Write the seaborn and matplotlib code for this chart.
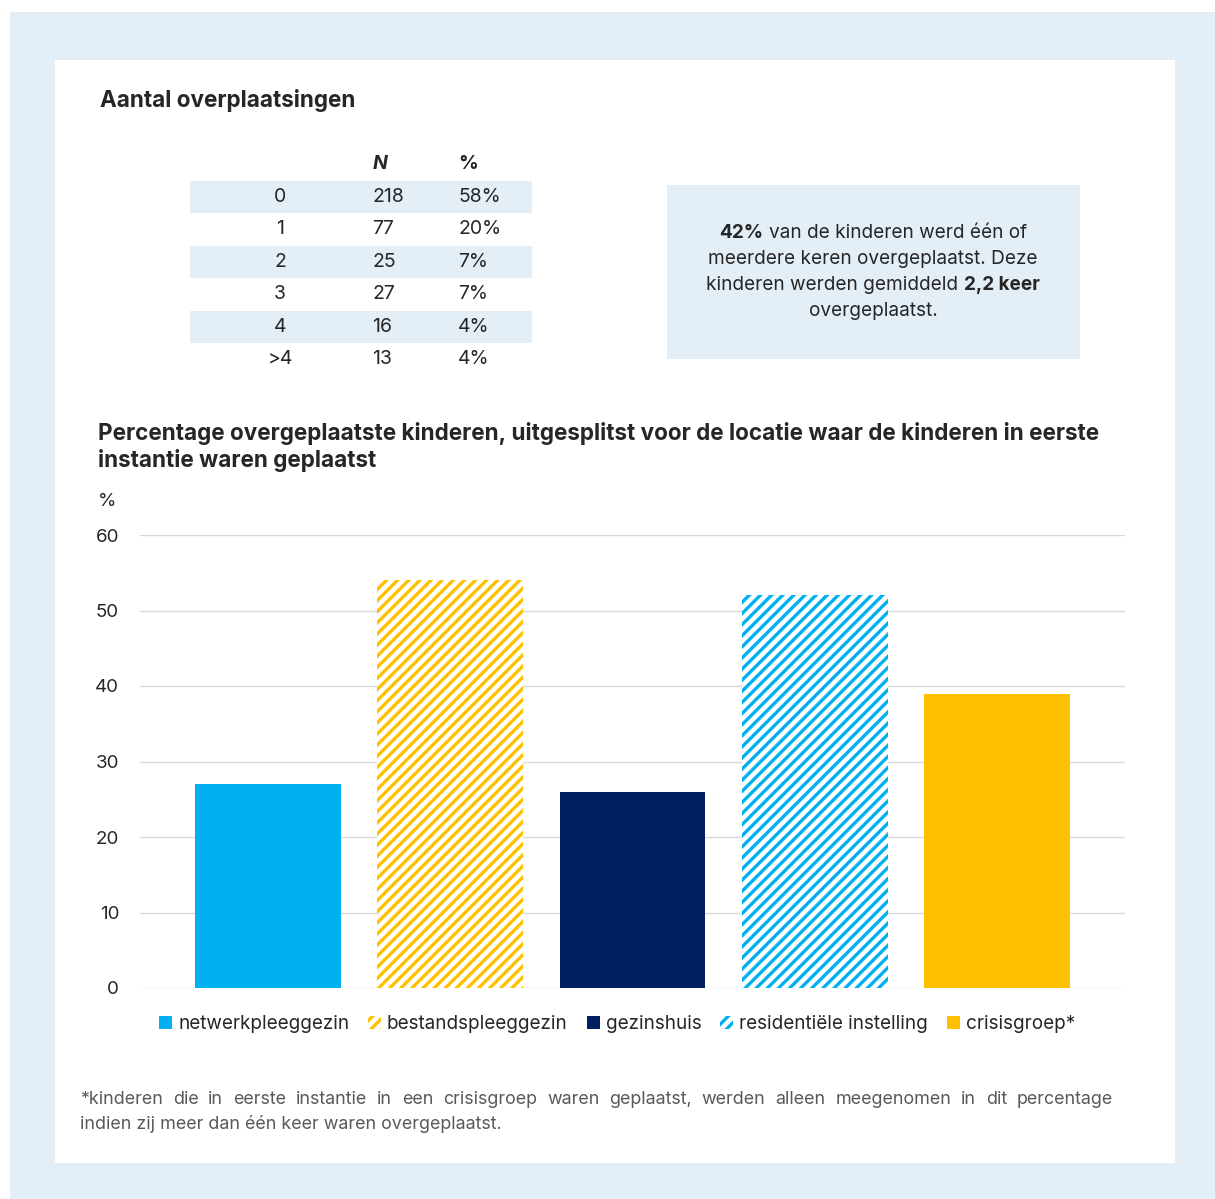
import matplotlib
matplotlib.use("Agg")
import matplotlib.pyplot as plt
from matplotlib.patches import Rectangle, Patch
import seaborn as sns

# data
table_rows = ["0", "1", "2", "3", "4", ">4"]
table_n = [218, 77, 25, 27, 16, 13]
table_pct = ["58%", "20%", "7%", "7%", "4%", "4%"]

locaties = ["netwerkpleeggezin", "bestandspleeggezin", "gezinshuis",
            "residentiële instelling", "crisisgroep*"]
pct_overgeplaatst = [27, 54, 26, 52, 39]
kleuren = ["#00B0F0", "#FFC000", "#002060", "#00B0F0", "#FFC000"]
gearceerd = [False, True, False, True, False]

yticks = [0, 10, 20, 30, 40, 50, 60]

sns.set_theme(style="white")
plt.rcParams["font.family"] = ["Inter", "DejaVu Sans"]
plt.rcParams["hatch.linewidth"] = 2.4

W, H = 1215, 1199
fig = plt.figure(figsize=(W / 100, H / 100), dpi=100)
fig.patch.set_facecolor("white")
LIGHT = "#E4EEF7"


def fx(px):
    return px / W


def fy(py):
    return 1 - py / H


def rect(x0, y0, x1, y1, color, z=0):
    fig.add_artist(Rectangle((fx(x0), fy(y1)), fx(x1) - fx(x0), fy(y0) - fy(y1),
                             transform=fig.transFigure, facecolor=color,
                             edgecolor="none", zorder=z))


# panels
rect(10, 12, 1215, 1199, LIGHT, z=-3)
rect(55, 60, 1175, 1163, "white", z=-2)

# section titles
fig.text(fx(100), fy(101), "Aantal overplaatsingen", fontsize=16.2, fontweight="bold",
         va="center", ha="left")
fig.text(fx(98), fy(447),
         "Percentage overgeplaatste kinderen, uitgesplitst voor de locatie waar de kinderen in eerste\ninstantie waren geplaatst",
         fontsize=16.2, fontweight="bold", va="center", ha="left", linespacing=1.2)

# table
fs_tab = 14
row_y = [197, 229, 262, 294, 327, 359]
for i, r in enumerate(table_rows):
    if i % 2 == 0:
        rect(190, row_y[i] - 16, 532, row_y[i] + 16, LIGHT, z=-1)
    fig.text(fx(280), fy(row_y[i]), r, fontsize=fs_tab, ha="center", va="center")
    fig.text(fx(372), fy(row_y[i]), str(table_n[i]), fontsize=fs_tab, ha="left", va="center")
    fig.text(fx(458), fy(row_y[i]), table_pct[i], fontsize=fs_tab, ha="left", va="center")
fig.text(fx(373), fy(164), "N", fontsize=fs_tab, fontweight="bold", fontstyle="italic",
         ha="left", va="center")
fig.text(fx(458), fy(164), "%", fontsize=fs_tab, fontweight="bold", ha="left", va="center")

# text box with mixed bold
rect(667, 185, 1080, 359, LIGHT, z=-1)
renderer = fig.canvas.get_renderer()


def text_width(s, **kw):
    t = fig.text(0, 0, s, **kw)
    w = t.get_window_extent(renderer).width
    t.remove()
    return w


box_lines = [
    [("42%", "bold"), ("van de kinderen werd één of", "normal")],
    [("meerdere keren overgeplaatst. Deze", "normal")],
    [("kinderen werden gemiddeld", "normal"), ("2,2 keer", "bold")],
    [("overgeplaatst.", "normal")],
]
box_y = [233, 259, 285, 311]
fs_box = 13.7
space = text_width("a a", fontsize=fs_box) - text_width("aa", fontsize=fs_box)
for line, yy in zip(box_lines, box_y):
    widths = [text_width(s, fontsize=fs_box, fontweight=w) for s, w in line]
    total = sum(widths) + space * (len(line) - 1)
    x = 873 - total / 2
    for (s, w), wd in zip(line, widths):
        fig.text(fx(x), fy(yy), s, fontsize=fs_box, fontweight=w, ha="left", va="center")
        x += wd + space

# bar chart
ax = fig.add_axes([fx(140), fy(988), fx(1125) - fx(140), fy(535) - fy(988)])
sns.barplot(x=locaties, y=pct_overgeplaatst, hue=locaties, palette=kleuren,
            legend=False, width=0.8, saturation=1, ax=ax)
for cont, kleur, hatch in zip(ax.containers, kleuren, gearceerd):
    for bar in cont:
        if hatch:
            bar.set_facecolor("white")
            bar.set_edgecolor(kleur)
            bar.set_hatch("///")
            bar.set_linewidth(0)
        else:
            bar.set_facecolor(kleur)
            bar.set_linewidth(0)
        bar.set_zorder(3)

ax.set_xlim(-0.7, 4.7)
ax.set_ylim(0, 60)
ax.set_yticks(yticks)
ax.set_yticklabels([str(v) for v in yticks], fontsize=13.5)
ax.set_xticks([])
ax.set_xlabel("")
ax.set_ylabel("")
ax.grid(axis="y", color="#D9D9D9", linewidth=1)
ax.set_axisbelow(True)
for s in ax.spines.values():
    s.set_visible(False)
ax.tick_params(axis="y", length=0, pad=15)
fig.text(fx(107), fy(501), "%", fontsize=13.5, ha="center", va="center")

handles = []
for kleur, hatch in zip(kleuren, gearceerd):
    if hatch:
        handles.append(Patch(facecolor="white", edgecolor=kleur, hatch="///", linewidth=0))
    else:
        handles.append(Patch(facecolor=kleur, edgecolor="none"))
fig.legend(handles, locaties, loc="center", bbox_to_anchor=(fx(617), fy(1024)),
           ncol=5, frameon=False, fontsize=13.6, handlelength=0.7, handleheight=0.7,
           handletextpad=0.3, columnspacing=1.0)

# footnote (first line justified)
fs_fn = 12.9
grijs = "#595959"
words = "*kinderen die in eerste instantie in een crisisgroep waren geplaatst, werden alleen meegenomen in dit percentage".split()
ww = [text_width(w, fontsize=fs_fn) for w in words]
gap = (1113 - 80 - sum(ww)) / (len(words) - 1)
x = 80
for w, wd in zip(words, ww):
    fig.text(fx(x), fy(1100), w, fontsize=fs_fn, color=grijs, ha="left", va="center")
    x += wd + gap
fig.text(fx(80), fy(1124), "indien zij meer dan één keer waren overgeplaatst.", fontsize=fs_fn,
         color=grijs, ha="left", va="center")

fig.savefig("out.png", dpi=100)
